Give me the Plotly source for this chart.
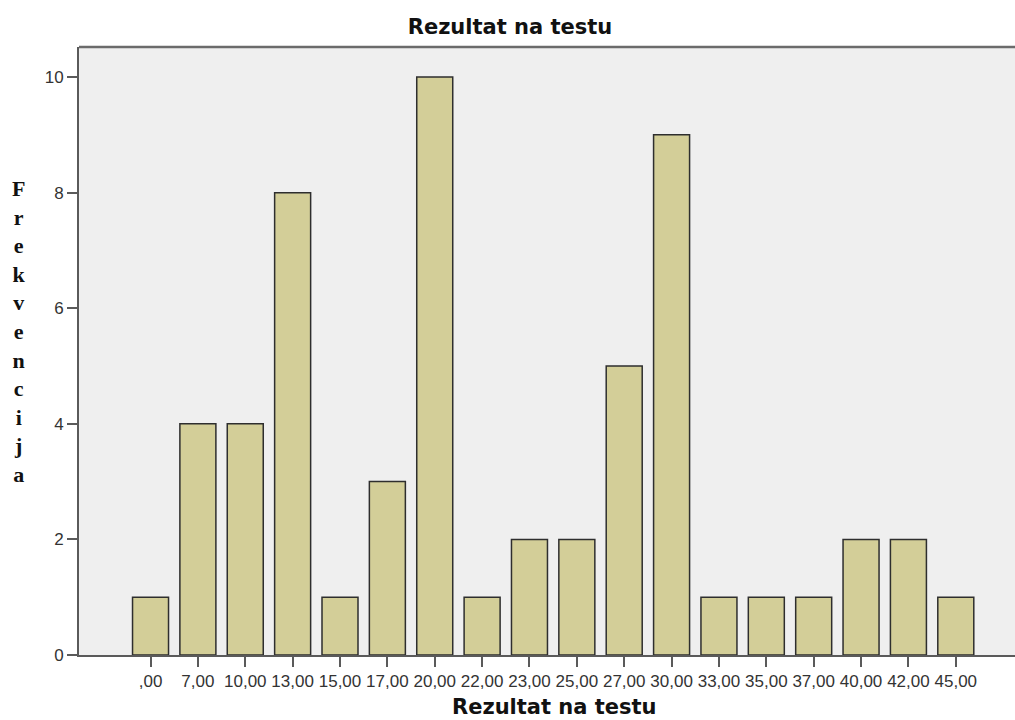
"""
Rezultat na testu - SPSS-style frequency bar chart
"""

import plotly.graph_objects as go

# data
scores = [',00', '7,00', '10,00', '13,00', '15,00', '17,00', '20,00', '22,00', '23,00',
          '25,00', '27,00', '30,00', '33,00', '35,00', '37,00', '40,00', '42,00', '45,00']
frequency = [1, 4, 4, 8, 1, 3, 10, 1, 2, 2, 5, 9, 1, 1, 1, 2, 2, 1]
y_ticks = [0, 2, 4, 6, 8, 10]

chart_title = 'Rezultat na testu'
x_title = 'Rezultat na testu'
y_title = 'Frekvencija'

# colours / fonts
BG = '#EFEFEF'
BAR = '#D3CE98'
EDGE = '#2E2E2E'
AXIS = '#5A5A5A'
TEXT = '#333333'
TITLE_FONT = dict(family='DejaVu Sans', size=21, color='#111111')
TICK_FONT = dict(family='Liberation Sans, Arial', size=17, color=TEXT)

# pixel layout
W, H = 1015, 720
L, R, T, B = 79, 0, 47, 65
plot_w = W - L - R
plot_h = H - T - B

fig = go.Figure()

fig.add_trace(
    go.Bar(
        x=scores,
        y=frequency,
        width=0.76,
        marker=dict(color=BAR, line=dict(color=EDGE, width=1.5)),
        showlegend=False,
    )
)

# top border of the plot frame (right side is cut off in the original)
fig.add_shape(
    type='line', xref='paper', yref='paper',
    x0=0, x1=1, y0=1, y1=1,
    line=dict(color='#6B6B6B', width=2.5),
)

# vertical stacked y title
fig.add_annotation(
    text='<b>' + '<br>'.join(list(y_title)) + '</b>',
    xref='paper', yref='paper',
    x=(19 - L) / plot_w, y=(H - B - 331) / plot_h,
    xanchor='center', yanchor='middle',
    showarrow=False,
    font=dict(family='Liberation Serif, Times New Roman', size=22, color='#111111'),
)

# x title
fig.add_annotation(
    text='<b>' + x_title + '</b>',
    xref='paper', yref='paper',
    x=(554 - L) / plot_w, y=(H - B - 707) / plot_h,
    xanchor='center', yanchor='middle',
    showarrow=False,
    font=TITLE_FONT,
)

fig.update_layout(
    width=W,
    height=H,
    margin=dict(l=L, r=R, t=T, b=B),
    paper_bgcolor='white',
    plot_bgcolor=BG,
    title=dict(
        text='<b>' + chart_title + '</b>',
        x=510 / W, xanchor='center',
        y=1 - 26.5 / H, yanchor='middle',
        font=TITLE_FONT,
    ),
    xaxis=dict(
        type='category',
        range=[-1.51, 18.25],
        showgrid=False,
        zeroline=False,
        showline=True,
        linecolor=AXIS,
        linewidth=2,
        ticks='outside',
        ticklen=10,
        tickwidth=2,
        tickcolor=AXIS,
        tickfont=TICK_FONT,
        tickangle=0,
    ),
    yaxis=dict(
        range=[0, 10.52],
        tickmode='array',
        tickvals=y_ticks,
        ticktext=[str(v) for v in y_ticks],
        showgrid=False,
        zeroline=False,
        showline=True,
        linecolor=AXIS,
        linewidth=2,
        ticks='outside',
        ticklen=10,
        tickwidth=2,
        tickcolor=AXIS,
        tickfont=TICK_FONT,
    ),
    bargap=0.24,
)

# drop the browser's default body margin so the figure sits at (0, 0)
fig.write_html(
    'out.html',
    config={'displayModeBar': False},
    post_script="document.body.style.margin='0';document.body.style.overflow='hidden';",
)
